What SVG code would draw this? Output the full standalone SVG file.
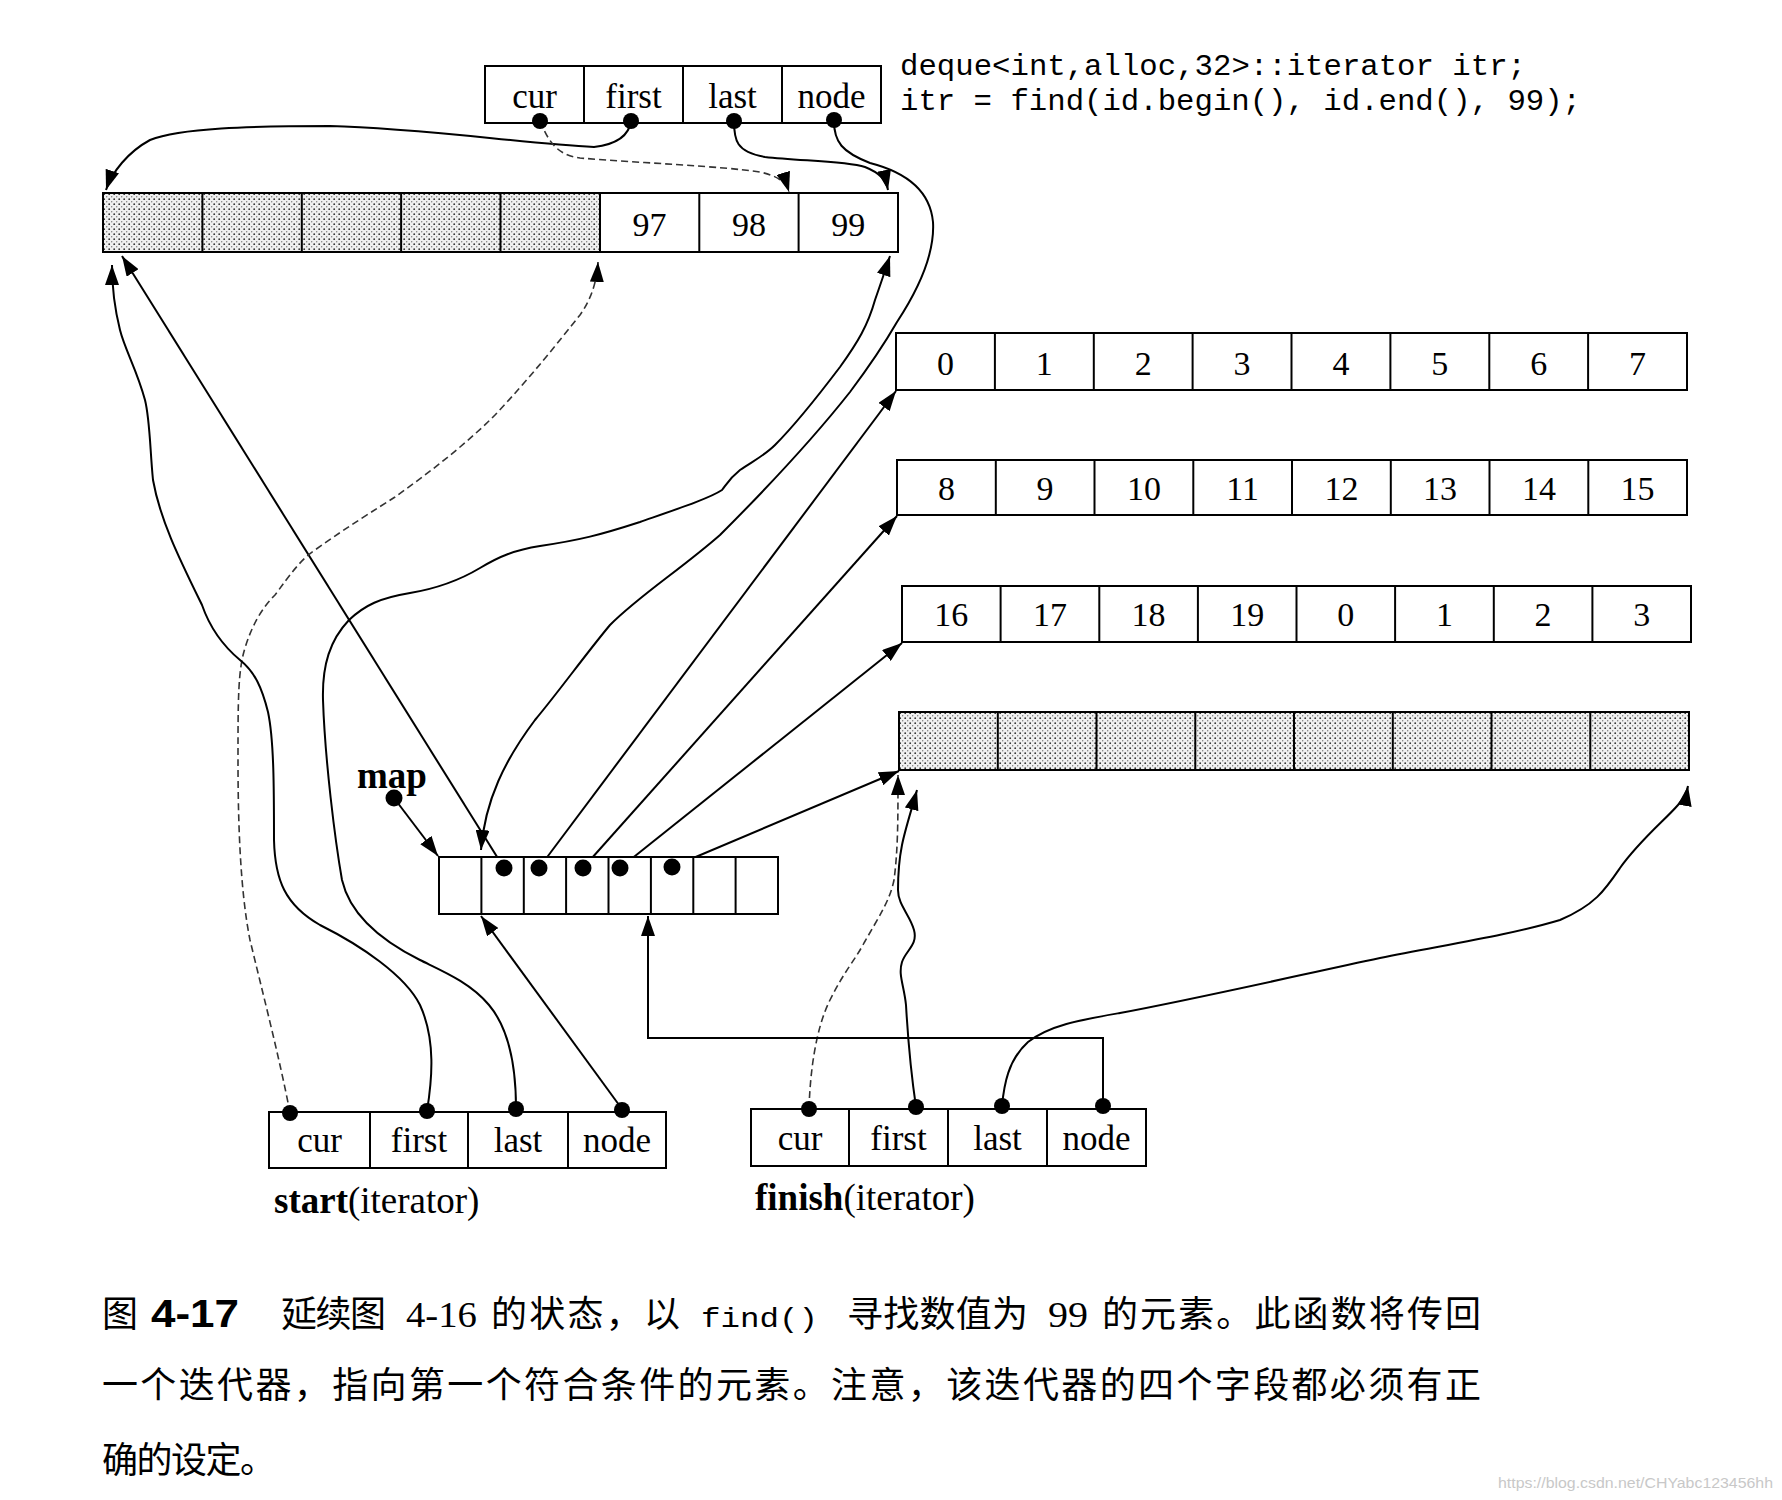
<svg xmlns="http://www.w3.org/2000/svg" width="1782" height="1500" viewBox="0 0 1782 1500">
<style>
.box{fill:#fff;stroke:#000;stroke-width:2}
.shade{fill:url(#dots);stroke:#000;stroke-width:2}
.dv{stroke:#000;stroke-width:2}
.lbl{font-family:"Liberation Serif",serif;font-size:35px;text-anchor:middle;fill:#000}
.num{font-family:"Liberation Serif",serif;font-size:34px;text-anchor:middle;fill:#000}
.code{font-family:"Liberation Mono",monospace;font-size:29px;fill:#000}
.name{font-family:"Liberation Serif",serif;font-size:37px;fill:#000}
.cap{font-family:"Liberation Serif","Noto Sans CJK SC",sans-serif;font-size:36px;fill:#000}
.conn{fill:none;stroke:#000;stroke-width:2}
.dash{fill:none;stroke:#333;stroke-width:1.6;stroke-dasharray:7 4}
.dot{fill:#000}
</style>
<defs>
<pattern id="dots" width="5" height="5" patternUnits="userSpaceOnUse">
<rect width="5" height="5" fill="#efefef"/>
<circle cx="1.2" cy="1.2" r="0.9" fill="#333"/>
<circle cx="3.7" cy="3.7" r="0.7" fill="#777"/>
</pattern>
<marker id="arr" markerUnits="userSpaceOnUse" markerWidth="20" markerHeight="14" refX="20" refY="7" orient="auto">
<path d="M0,0 L20,7 L0,14 z" fill="#000"/>
</marker>
</defs>
<rect width="1782" height="1500" fill="#fff"/>

<g id="code">
<text class="code" x="900" y="75" textLength="626" lengthAdjust="spacingAndGlyphs">deque&lt;int,alloc,32&gt;::iterator itr;</text>
<text class="code" x="900" y="110" textLength="681" lengthAdjust="spacingAndGlyphs">itr = find(id.begin(), id.end(), 99);</text>
</g>

<g id="connectors">
<path class="conn" marker-end="url(#arr)" d="M631,121 Q628,143 594,147 C520,143 420,128 330,126 C250,126 180,128 150,140 C128,152 112,172 106,190"/>
<path class="dash" marker-end="url(#arr)" d="M540,121 C548,140 556,155 580,158 C640,163 720,166 760,172 C778,176 786,182 789,192"/>
<path class="conn" marker-end="url(#arr)" d="M734,121 C734,140 736,152 765,157 C800,161 845,161 865,167 C880,173 886,180 888,190"/>
<path class="conn" marker-end="url(#arr)" d="M834,121 C834,142 842,152 870,163 C905,172 930,190 933,222 C935,255 918,290 897,322 C882,348 868,368 850,392 C820,430 780,475 720,535 C680,570 640,595 610,625 C585,655 560,690 535,720 C505,760 485,800 481,850"/>
<path class="conn" marker-end="url(#arr)" d="M504,868 L122,256"/>
<path class="conn" marker-end="url(#arr)" d="M539,868 L896,391"/>
<path class="conn" marker-end="url(#arr)" d="M583,868 L897,516"/>
<path class="conn" marker-end="url(#arr)" d="M620,868 L902,643"/>
<path class="conn" marker-end="url(#arr)" d="M672,867 L899,771"/>
<path class="conn" marker-end="url(#arr)" d="M394,798 L438,856"/>
<path class="dash" marker-end="url(#arr)" d="M290,1113 C280,1060 262,990 250,940 C240,890 238,820 238,760 C238,700 238,670 245,648 C252,625 262,608 275,595 C290,575 300,560 315,550 C350,525 375,510 395,497 C430,472 465,445 495,415 C530,378 560,340 580,315 C592,298 597,280 598,262"/>
<path class="conn" marker-end="url(#arr)" d="M427,1111 C432,1080 436,1040 420,1005 C405,975 360,945 320,925 C285,905 275,880 274,840 C274,790 274,740 268,712 C262,688 255,672 240,660 C222,645 210,628 202,605 C180,560 160,520 153,480 C150,450 150,420 145,400 C137,370 125,350 120,330 C115,310 112,290 112,265"/>
<path class="conn" marker-end="url(#arr)" d="M516,1108 C516,1070 510,1030 489,1005 C470,982 440,970 420,960 C380,940 350,915 342,880 C335,840 325,760 323,700 C322,665 330,640 349,620 C365,605 380,598 410,593 C440,588 460,580 480,568 C500,556 515,550 540,546 C580,540 600,535 640,522 C680,508 710,498 722,490 C728,482 730,478 740,470 C755,460 765,455 775,445 C795,425 815,400 840,367 C858,342 868,325 875,300 C882,280 886,268 890,256"/>
<path class="conn" marker-end="url(#arr)" d="M622,1109 L481,916"/>
<path class="dash" marker-end="url(#arr)" d="M809,1109 C810,1075 815,1030 830,1000 C845,970 855,960 864,943 C880,915 890,900 894,880 C898,850 898,820 898,775"/>
<path class="conn" marker-end="url(#arr)" d="M916,1107 C912,1080 908,1040 906,1005 C904,985 898,975 902,962 C906,950 918,945 914,930 C910,915 898,905 898,890 C898,870 900,855 902,845 C905,830 910,815 917,790"/>
<path class="conn" marker-end="url(#arr)" d="M1002,1106 C1004,1085 1008,1060 1028,1042 C1050,1025 1080,1020 1120,1013 C1200,998 1300,975 1380,958 C1450,944 1510,935 1560,920 C1595,905 1605,890 1620,868 C1640,840 1665,820 1678,805 C1684,798 1687,792 1688,786"/>
<path class="conn" marker-end="url(#arr)" d="M1103,1106 L1103,1038 L648,1038 L648,916"/>
</g>

<g id="itr">
<rect class="box" x="485" y="66" width="396" height="57"/>
<line class="dv" x1="584" y1="66" x2="584" y2="123"/>
<line class="dv" x1="683" y1="66" x2="683" y2="123"/>
<line class="dv" x1="782" y1="66" x2="782" y2="123"/>
<text class="lbl" x="534.5" y="108">cur</text>
<text class="lbl" x="633.5" y="108">first</text>
<text class="lbl" x="732.5" y="108">last</text>
<text class="lbl" x="831.5" y="108">node</text>
<circle class="dot" cx="540" cy="121" r="8"/>
<circle class="dot" cx="631" cy="121" r="8"/>
<circle class="dot" cx="734" cy="121" r="8"/>
<circle class="dot" cx="834" cy="120" r="8"/>
</g>

<g id="buffer0" transform="translate(103,193)">
<rect class="box" x="0" y="0" width="795" height="59"/>
<rect class="shade" x="0" y="0" width="497" height="59"/>
<line class="dv" x1="99.4" y1="0" x2="99.4" y2="59"/>
<line class="dv" x1="198.8" y1="0" x2="198.8" y2="59"/>
<line class="dv" x1="298.1" y1="0" x2="298.1" y2="59"/>
<line class="dv" x1="397.5" y1="0" x2="397.5" y2="59"/>
<line class="dv" x1="596.3" y1="0" x2="596.3" y2="59"/>
<line class="dv" x1="695.6" y1="0" x2="695.6" y2="59"/>
<text class="num" x="546.6" y="43">97</text>
<text class="num" x="645.9" y="43">98</text>
<text class="num" x="745.3" y="43">99</text>
</g>

<g id="buffer1" transform="translate(896,333)">
<rect class="box" x="0" y="0" width="791" height="57"/>
<line class="dv" x1="98.9" y1="0" x2="98.9" y2="57"/>
<line class="dv" x1="197.8" y1="0" x2="197.8" y2="57"/>
<line class="dv" x1="296.6" y1="0" x2="296.6" y2="57"/>
<line class="dv" x1="395.5" y1="0" x2="395.5" y2="57"/>
<line class="dv" x1="494.4" y1="0" x2="494.4" y2="57"/>
<line class="dv" x1="593.3" y1="0" x2="593.3" y2="57"/>
<line class="dv" x1="692.1" y1="0" x2="692.1" y2="57"/>
<text class="num" x="49.4" y="42">0</text>
<text class="num" x="148.3" y="42">1</text>
<text class="num" x="247.2" y="42">2</text>
<text class="num" x="346.1" y="42">3</text>
<text class="num" x="445" y="42">4</text>
<text class="num" x="543.8" y="42">5</text>
<text class="num" x="642.7" y="42">6</text>
<text class="num" x="741.6" y="42">7</text>
</g>

<g id="buffer2" transform="translate(897,460)">
<rect class="box" x="0" y="0" width="790" height="55"/>
<line class="dv" x1="98.8" y1="0" x2="98.8" y2="55"/>
<line class="dv" x1="197.5" y1="0" x2="197.5" y2="55"/>
<line class="dv" x1="296.3" y1="0" x2="296.3" y2="55"/>
<line class="dv" x1="395" y1="0" x2="395" y2="55"/>
<line class="dv" x1="493.8" y1="0" x2="493.8" y2="55"/>
<line class="dv" x1="592.5" y1="0" x2="592.5" y2="55"/>
<line class="dv" x1="691.3" y1="0" x2="691.3" y2="55"/>
<text class="num" x="49.4" y="40">8</text>
<text class="num" x="148.1" y="40">9</text>
<text class="num" x="246.9" y="40">10</text>
<text class="num" x="345.6" y="40">11</text>
<text class="num" x="444.4" y="40">12</text>
<text class="num" x="543.1" y="40">13</text>
<text class="num" x="641.9" y="40">14</text>
<text class="num" x="740.6" y="40">15</text>
</g>

<g id="buffer3" transform="translate(902,586)">
<rect class="box" x="0" y="0" width="789" height="56"/>
<line class="dv" x1="98.6" y1="0" x2="98.6" y2="56"/>
<line class="dv" x1="197.3" y1="0" x2="197.3" y2="56"/>
<line class="dv" x1="295.9" y1="0" x2="295.9" y2="56"/>
<line class="dv" x1="394.5" y1="0" x2="394.5" y2="56"/>
<line class="dv" x1="493.1" y1="0" x2="493.1" y2="56"/>
<line class="dv" x1="591.8" y1="0" x2="591.8" y2="56"/>
<line class="dv" x1="690.4" y1="0" x2="690.4" y2="56"/>
<text class="num" x="49.3" y="40">16</text>
<text class="num" x="147.9" y="40">17</text>
<text class="num" x="246.6" y="40">18</text>
<text class="num" x="345.2" y="40">19</text>
<text class="num" x="443.8" y="40">0</text>
<text class="num" x="542.4" y="40">1</text>
<text class="num" x="641.1" y="40">2</text>
<text class="num" x="739.7" y="40">3</text>
</g>

<g id="buffer4" transform="translate(899,712)">
<rect class="shade" x="0" y="0" width="790" height="58"/>
<line class="dv" x1="98.8" y1="0" x2="98.8" y2="58"/>
<line class="dv" x1="197.5" y1="0" x2="197.5" y2="58"/>
<line class="dv" x1="296.3" y1="0" x2="296.3" y2="58"/>
<line class="dv" x1="395" y1="0" x2="395" y2="58"/>
<line class="dv" x1="493.8" y1="0" x2="493.8" y2="58"/>
<line class="dv" x1="592.5" y1="0" x2="592.5" y2="58"/>
<line class="dv" x1="691.3" y1="0" x2="691.3" y2="58"/>
</g>

<g id="map">
<text x="357" y="788" style="font-family:'Liberation Serif',serif;font-size:37px;font-weight:bold">map</text>
<circle class="dot" cx="394" cy="798" r="8.5"/>
<g transform="translate(439,857)">
<rect class="box" x="0" y="0" width="339" height="57"/>
<line class="dv" x1="42.4" y1="0" x2="42.4" y2="57"/>
<line class="dv" x1="84.8" y1="0" x2="84.8" y2="57"/>
<line class="dv" x1="127.1" y1="0" x2="127.1" y2="57"/>
<line class="dv" x1="169.5" y1="0" x2="169.5" y2="57"/>
<line class="dv" x1="211.9" y1="0" x2="211.9" y2="57"/>
<line class="dv" x1="254.3" y1="0" x2="254.3" y2="57"/>
<line class="dv" x1="296.6" y1="0" x2="296.6" y2="57"/>
</g>
<circle class="dot" cx="504" cy="868" r="8.5"/>
<circle class="dot" cx="539" cy="868" r="8.5"/>
<circle class="dot" cx="583" cy="868" r="8.5"/>
<circle class="dot" cx="620" cy="868" r="8.5"/>
<circle class="dot" cx="672" cy="867" r="8.5"/>
</g>

<g id="start">
<rect class="box" x="269" y="1112" width="397" height="56"/>
<line class="dv" x1="370" y1="1112" x2="370" y2="1168"/>
<line class="dv" x1="468" y1="1112" x2="468" y2="1168"/>
<line class="dv" x1="568" y1="1112" x2="568" y2="1168"/>
<text class="lbl" x="319.5" y="1152">cur</text>
<text class="lbl" x="419" y="1152">first</text>
<text class="lbl" x="518" y="1152">last</text>
<text class="lbl" x="617" y="1152">node</text>
<circle class="dot" cx="290" cy="1113" r="8"/>
<circle class="dot" cx="427" cy="1111" r="8"/>
<circle class="dot" cx="516" cy="1109" r="8"/>
<circle class="dot" cx="622" cy="1110" r="8"/>
<text class="name" x="274" y="1213"><tspan font-weight="bold">start</tspan>(iterator)</text>
</g>

<g id="finish">
<rect class="box" x="751" y="1109" width="395" height="57"/>
<line class="dv" x1="849" y1="1109" x2="849" y2="1166"/>
<line class="dv" x1="948" y1="1109" x2="948" y2="1166"/>
<line class="dv" x1="1047" y1="1109" x2="1047" y2="1166"/>
<text class="lbl" x="800" y="1150">cur</text>
<text class="lbl" x="898.5" y="1150">first</text>
<text class="lbl" x="997.5" y="1150">last</text>
<text class="lbl" x="1096.5" y="1150">node</text>
<circle class="dot" cx="809" cy="1109" r="8"/>
<circle class="dot" cx="916" cy="1107" r="8"/>
<circle class="dot" cx="1002" cy="1106" r="8"/>
<circle class="dot" cx="1103" cy="1106" r="8"/>
<text class="name" x="755" y="1210"><tspan font-weight="bold">finish</tspan>(iterator)</text>
</g>

<g id="caption">
<text class="cap" x="102" y="1327">图</text>
<text x="151" y="1327" textLength="88" lengthAdjust="spacingAndGlyphs" style="font-family:'Liberation Sans',sans-serif;font-weight:bold;font-size:38px">4-17</text>
<text class="cap" x="281" y="1327" textLength="105" lengthAdjust="spacing">延续图</text>
<text class="cap" x="406" y="1327" textLength="71" lengthAdjust="spacingAndGlyphs">4-16</text>
<text class="cap" x="491" y="1327" textLength="189" lengthAdjust="spacing">的状态，以</text>
<text x="701" y="1327" textLength="117" lengthAdjust="spacingAndGlyphs" style="font-family:'Liberation Mono',monospace;font-size:28px">find()</text>
<text class="cap" x="847" y="1327" textLength="181" lengthAdjust="spacing">寻找数值为</text>
<text class="cap" x="1048" y="1327" textLength="40" lengthAdjust="spacingAndGlyphs">99</text>
<text class="cap" x="1102" y="1327" textLength="379" lengthAdjust="spacing">的元素。此函数将传回</text>
<text class="cap" x="102" y="1398" textLength="1379" lengthAdjust="spacing">一个迭代器，指向第一个符合条件的元素。注意，该迭代器的四个字段都必须有正</text>
<text class="cap" x="102" y="1473" textLength="174" lengthAdjust="spacing">确的设定。</text>
<text x="1498" y="1488" style="font-family:'Liberation Sans',sans-serif;font-size:15px;fill:#c8c8c8" textLength="275" lengthAdjust="spacingAndGlyphs">https://blog.csdn.net/CHYabc123456hh</text>
</g>
</svg>
